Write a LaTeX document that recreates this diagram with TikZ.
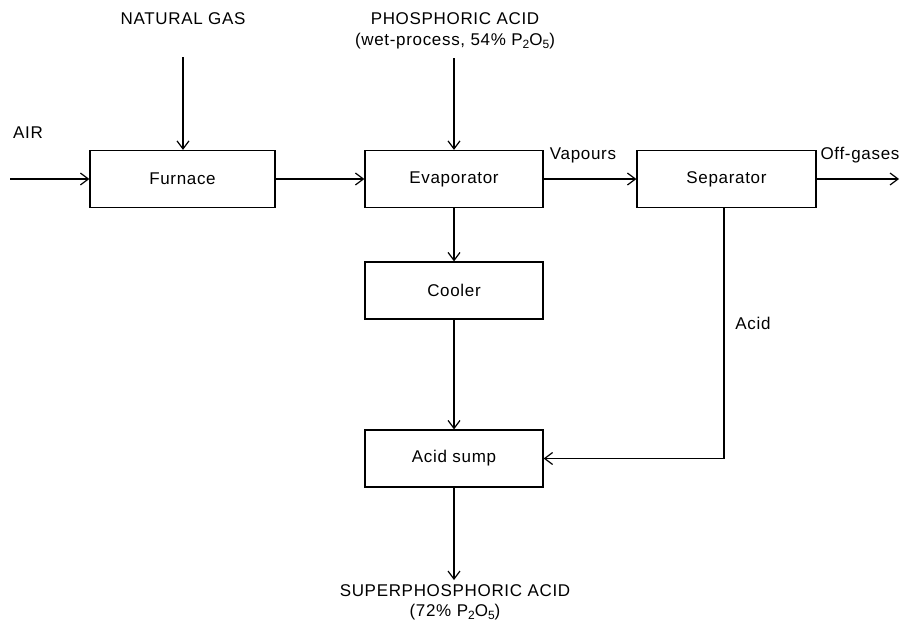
\documentclass[tikz,border=0pt]{standalone}
\usepackage{fontspec}
\setmainfont[LetterSpace=4]{Liberation Sans}
\usetikzlibrary{arrows.meta}
\newcommand{\chemsub}[1]{\raisebox{-3pt}{\fontsize{12}{12}\selectfont #1}}
\begin{document}
\begin{tikzpicture}[x=1pt,y=-1pt,
  font=\fontsize{17}{20}\selectfont,
  unit/.style={draw,line width=1.2pt,minimum height=57pt,inner sep=0pt},
  flow/.style={line width=1.3pt,-{Straight Barb[length=8pt,width=12pt,line width=1.2pt]}},
  lbl/.style={inner sep=0pt}]
\useasboundingbox (0,0) rectangle (901,627);

% process units
\node[unit,minimum width=185pt] (furnace) at (182.5,179) {Furnace};
\node[unit,minimum width=178pt] (evap) at (454,179) {Evaporator};
\node[unit,minimum width=179pt] (sep) at (726.5,179) {Separator};
\node[unit,minimum width=178pt] (cooler) at (454,290.5) {Cooler};
\node[unit,minimum width=178pt] (sump) at (454,458.5) {Acid sump};

% feed and product labels
\node[lbl] (gas) at (183,19) {NATURAL GAS};
\node[lbl] (phos) at (455,19) {PHOSPHORIC ACID};
\node[lbl] (phos2) at (455,41) {(wet-process, 54\% P\chemsub{2}O\chemsub{5})};
\node[lbl] (air) at (28,133) {AIR};
\node[lbl] (vap) at (583,155) {Vapours};
\node[lbl] (off) at (860,155) {Off-gases};
\node[lbl] (acid) at (753,323) {Acid};
\node[lbl] (spa) at (455,591) {SUPERPHOSPHORIC ACID};
\node[lbl] (spa2) at (455,612) {(72\% P\chemsub{2}O\chemsub{5})};

% free line ends
\coordinate (gasin) at (183,57);
\coordinate (phosin) at (454,58);
\coordinate (airin) at (10,179);
\coordinate (offout) at (899,179);
\coordinate (prodout) at (454,580);

% streams
\draw[flow] (gasin) -- (gasin |- furnace.north);
\draw[flow] (phosin) -- (evap.north);
\draw[flow] (airin) -- (furnace.west);
\draw[flow] (furnace.east) -- (evap.west);
\draw[flow] (evap.east) -- (sep.west);
\draw[flow] (sep.east) -- (offout);
\draw[flow] (evap.south) -- (cooler.north);
\draw[flow] (cooler.south) -- (sump.north);
\draw[flow] ([xshift=-2.5pt]sep.south) |- (sump.east);
\draw[flow] (sump.south) -- (prodout);
\end{tikzpicture}
\end{document}
